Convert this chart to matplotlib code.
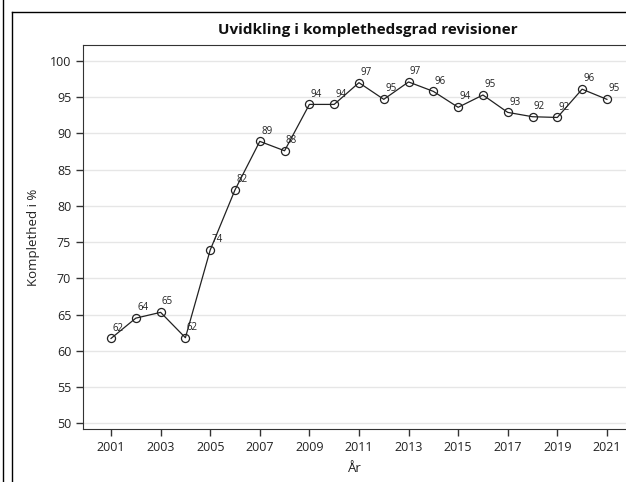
import matplotlib.pyplot as plt
from matplotlib.lines import Line2D

# ----------------------------------------------------------------------
# Data
# ----------------------------------------------------------------------
years = list(range(2001, 2022))
komplethed = [61.7, 64.5, 65.3, 61.8, 73.9, 82.2, 88.9, 87.6, 94.0, 94.0,
              97.0, 94.7, 97.1, 95.8, 93.6, 95.3, 92.9, 92.3, 92.2, 96.1, 94.7]
labels = [62, 64, 65, 62, 74, 82, 89, 88, 94, 94,
          97, 95, 97, 96, 94, 95, 93, 92, 92, 96, 95]

y_ticks = list(range(50, 101, 5))
x_ticks = list(range(2001, 2022, 2))

plt.rcParams['font.family'] = ['Open Sans', 'DejaVu Sans']

W, H = 626, 482
fig = plt.figure(figsize=(W / 100, H / 100), dpi=100)

# axes box in pixel units (right side runs off the image like the source)
left, right, top, bottom = 83, 626, 45, 429
ax = fig.add_axes([left / W, 1 - bottom / H, (right - left) / W, (bottom - top) / H])

ax.plot(years, komplethed, color="#222222", lw=0.9, marker="o", ms=5.8,
        mfc="none", mec="#222222", mew=0.9, zorder=3)

for x, y, lab in zip(years, komplethed, labels):
    ax.annotate(str(lab), (x, y), xytext=(1, 3.5), textcoords="offset points",
                ha="left", va="bottom", fontsize=7, color="#222222")

ax.set_xlim(1999.87, 2021.77)
ax.set_ylim(49.2, 102.2)
ax.set_xticks(x_ticks)
ax.set_yticks(y_ticks)
ax.tick_params(axis="both", labelsize=9, length=5, width=1, color="#333333",
               labelcolor="#222222", direction="out")
ax.grid(axis="y", color="#e6e6e6", lw=1)
ax.set_axisbelow(True)
ax.spines["right"].set_visible(False)
for s in ("left", "bottom", "top"):
    ax.spines[s].set_color("#333333")

ax.set_ylabel("Komplethed i %", fontsize=9.5, color="#222222", labelpad=7)
ax.set_xlabel("År", fontsize=9.5, color="#222222", labelpad=6)

fig.text(368 / W, 1 - 30 / H, "Uvidkling i komplethedsgrad revisioner",
         ha="center", va="center", fontsize=11, fontweight="bold", color="#111111")

# frame lines from the screenshot
fig.add_artist(Line2D([2.5 / W, 2.5 / W], [0, 1], color="black", lw=1))
fig.add_artist(Line2D([11.5 / W, 11.5 / W], [0, 1 - 11.5 / H], color="black", lw=1))
fig.add_artist(Line2D([11.5 / W, 1], [1 - 11.5 / H, 1 - 11.5 / H], color="black", lw=1))

fig.savefig("out.png", dpi=100)
